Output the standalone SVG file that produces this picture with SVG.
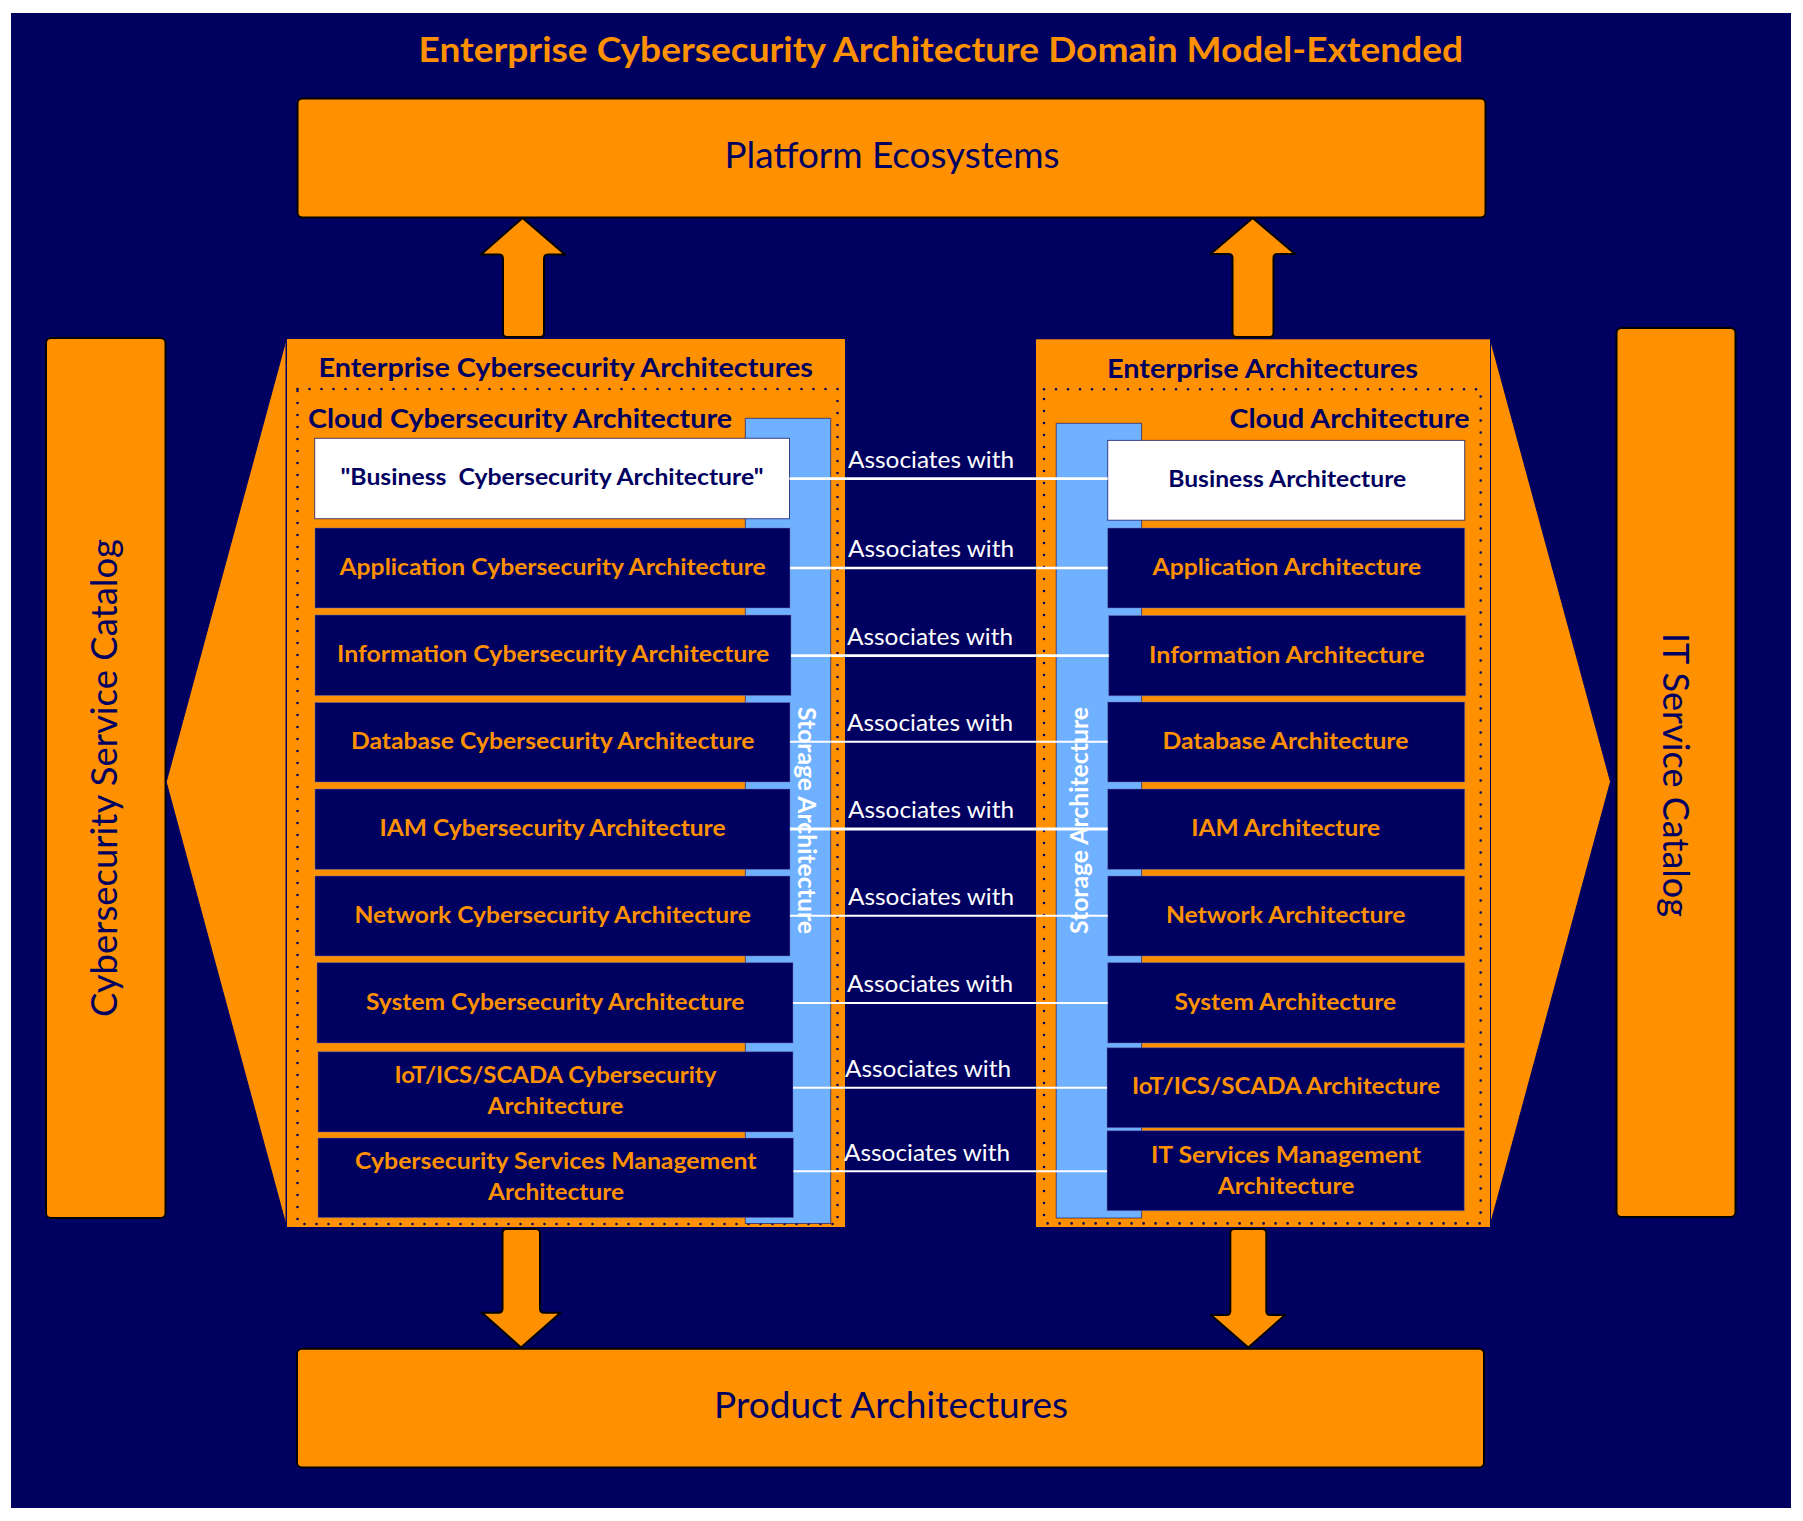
<svg xmlns="http://www.w3.org/2000/svg" width="1803" height="1521" viewBox="0 0 1803 1521">
<style>
text{font-family:"Lato","Liberation Sans",sans-serif;white-space:pre}
.o{fill:#ff9100}
.bar{fill:#ff9100;stroke:#000;stroke-width:2;stroke-linejoin:round}
.wedge{fill:#ff9100;stroke:#000060;stroke-width:1}
.dots{fill:none;stroke:#000060;stroke-width:2.6;stroke-linecap:round;stroke-dasharray:0 12}
.blue{fill:#6fb1ff;stroke:#000060;stroke-opacity:.6;stroke-width:1}
.box{fill:#000060;stroke:#6f6fb0;stroke-opacity:.5;stroke-width:1}
.wbox{fill:#fff;stroke:#000060;stroke-opacity:.7;stroke-width:1}
.bt{font-size:23px;font-weight:700;fill:#ff9100}
.nt{font-size:23px;font-weight:700;fill:#000060}
.h{font-size:26px;font-weight:700;fill:#000060}
.big{font-size:36px;fill:#000060}
.st{font-size:24px;font-weight:700;fill:#fff}
.lbl{font-size:24px;fill:#fff}
.conn{stroke:#fff;stroke-width:2.4;fill:none}
</style>
<rect width="1803" height="1521" fill="#fff"/>
<rect x="11" y="13" width="1780" height="1495" fill="#000060"/>
<g id="title"><text x="418.5" y="61.5" font-size="34" font-weight="700" fill="#ff9100" textLength="1044.5" lengthAdjust="spacingAndGlyphs">Enterprise Cybersecurity Architecture Domain Model-Extended</text></g>
<g id="platform-ecosystems"><rect class="bar" x="297.5" y="98.5" width="1188" height="119" rx="5"/><text class="big" x="724.5" y="168" textLength="335" lengthAdjust="spacingAndGlyphs">Platform Ecosystems</text></g>
<g id="product-architectures"><rect class="bar" x="297" y="1348.7" width="1187" height="118.8" rx="5"/><text class="big" x="714" y="1418" textLength="354" lengthAdjust="spacingAndGlyphs">Product Architectures</text></g>
<g id="cybersecurity-service-catalog"><rect class="bar" x="46" y="338" width="119.5" height="880" rx="5"/><text class="big" transform="translate(117 1017) rotate(-90)" textLength="478" lengthAdjust="spacingAndGlyphs">Cybersecurity Service Catalog</text></g>
<g id="it-service-catalog"><rect class="bar" x="1616.5" y="328" width="119" height="889" rx="5"/><text class="big" transform="translate(1663 633) rotate(90)" textLength="284" lengthAdjust="spacingAndGlyphs">IT Service Catalog</text></g>
<g id="enterprise-cybersecurity-architectures">
<polygon class="wedge" points="286,340 166.2,782 286,1225"/>
<rect class="o" x="287" y="339" width="558" height="888"/>
<rect class="dots" x="297.5" y="389" width="540" height="835"/>
<rect class="blue" x="745.3" y="418.3" width="85.4" height="805.2"/>
<text class="h" x="318.5" y="376.5" textLength="494.5" lengthAdjust="spacingAndGlyphs">Enterprise Cybersecurity Architectures</text>
<text class="h" x="308" y="427.5" textLength="424" lengthAdjust="spacingAndGlyphs">Cloud Cybersecurity Architecture</text>
<text class="st" transform="translate(798 707) rotate(90)" textLength="227" lengthAdjust="spacingAndGlyphs">Storage Architecture</text>
</g>
<g id="enterprise-architectures">
<polygon class="wedge" points="1490.5,340 1610.5,781.7 1490.5,1224"/>
<rect class="o" x="1036" y="339.3" width="454" height="887.7"/>
<rect class="dots" x="1044" y="389.2" width="436.7" height="834.2"/>
<rect class="blue" x="1056.2" y="423.3" width="85.4" height="794.7"/>
<text class="h" x="1107" y="378" textLength="311" lengthAdjust="spacingAndGlyphs">Enterprise Architectures</text>
<text class="h" x="1229.5" y="427.5" textLength="240" lengthAdjust="spacingAndGlyphs">Cloud Architecture</text>
<text class="st" transform="translate(1088 934) rotate(-90)" textLength="227" lengthAdjust="spacingAndGlyphs">Storage Architecture</text>
</g>
<g id="arrow-up-left"><path class="bar" d="M522.5 218L565 254.5H548Q544 254.5 544 258.5V333q0 4-4 4H507q-4 0-4-4V258.5Q503 254.5 499 254.5H481Z"/></g>
<g id="arrow-up-right"><path class="bar" d="M1252.7 218L1295 254H1277.5Q1273.5 254 1273.5 258V333q0 4-4 4H1236.5q-4 0-4-4V258Q1232.5 254 1228.5 254H1210.5Z"/></g>
<g id="arrow-down-left"><path class="bar" d="M502.5 1233q0-4 4-4H536q4 0 4 4V1308.7Q540 1312.7 544 1312.7H560.5L521 1347.5L482 1312.7H498.5Q502.5 1312.7 502.5 1308.7Z"/></g>
<g id="arrow-down-right"><path class="bar" d="M1230.3 1233q0-4 4-4H1262.3q4 0 4 4V1311Q1266.3 1315 1270.3 1315H1285L1248.3 1347.5L1211 1315H1226.3Q1230.3 1315 1230.3 1311Z"/></g>
<g id="business-cybersecurity"><rect class="wbox" x="314.7" y="438.3" width="474.8" height="80.4"/><text class="nt" x="340.5" y="485" textLength="423" lengthAdjust="spacingAndGlyphs">"Business  Cybersecurity Architecture"</text></g>
<g id="application-cybersecurity"><rect class="box" x="315" y="528" width="475" height="80"/><text class="bt" x="339.5" y="575.2" textLength="426.3" lengthAdjust="spacingAndGlyphs">Application Cybersecurity Architecture</text></g>
<g id="information-cybersecurity"><rect class="box" x="315" y="615" width="476" height="80.5"/><text class="bt" x="337" y="661.5" textLength="432.3" lengthAdjust="spacingAndGlyphs">Information Cybersecurity Architecture</text></g>
<g id="database-cybersecurity"><rect class="box" x="315" y="702.5" width="475" height="79.5"/><text class="bt" x="351" y="748.6" textLength="403.4" lengthAdjust="spacingAndGlyphs">Database Cybersecurity Architecture</text></g>
<g id="iam-cybersecurity"><rect class="box" x="315" y="789" width="475" height="80.4"/><text class="bt" x="379.5" y="835.8" textLength="346" lengthAdjust="spacingAndGlyphs">IAM Cybersecurity Architecture</text></g>
<g id="network-cybersecurity"><rect class="box" x="315" y="876" width="475" height="80"/><text class="bt" x="354.5" y="923" textLength="396.5" lengthAdjust="spacingAndGlyphs">Network Cybersecurity Architecture</text></g>
<g id="system-cybersecurity"><rect class="box" x="317" y="962.6" width="476" height="80.4"/><text class="bt" x="366" y="1009.5" textLength="378.5" lengthAdjust="spacingAndGlyphs">System Cybersecurity Architecture</text></g>
<g id="iot-cybersecurity"><rect class="box" x="318" y="1051.7" width="475" height="80.3"/><text class="bt" x="394.5" y="1082.6" textLength="321.9" lengthAdjust="spacingAndGlyphs">IoT/ICS/SCADA Cybersecurity</text><text class="bt" x="487.5" y="1113.9" textLength="135.9" lengthAdjust="spacingAndGlyphs">Architecture</text></g>
<g id="services-cybersecurity"><rect class="box" x="318" y="1138" width="475.5" height="79.6"/><text class="bt" x="355" y="1168.5" textLength="401.6" lengthAdjust="spacingAndGlyphs">Cybersecurity Services Management</text><text class="bt" x="488" y="1199.8" textLength="136" lengthAdjust="spacingAndGlyphs">Architecture</text></g>
<g id="business"><rect class="wbox" x="1107.7" y="440.4" width="357" height="79.8"/><text class="nt" x="1168.2" y="487" textLength="238" lengthAdjust="spacingAndGlyphs">Business Architecture</text></g>
<g id="application"><rect class="box" x="1107.7" y="528" width="357" height="80"/><text class="bt" x="1152.6" y="574.8" textLength="268.5" lengthAdjust="spacingAndGlyphs">Application Architecture</text></g>
<g id="information"><rect class="box" x="1108.7" y="615.5" width="357" height="80.3"/><text class="bt" x="1149.1" y="662.5" textLength="275.4" lengthAdjust="spacingAndGlyphs">Information Architecture</text></g>
<g id="database"><rect class="box" x="1107.7" y="702" width="357" height="80"/><text class="bt" x="1162.4" y="748.8" textLength="246" lengthAdjust="spacingAndGlyphs">Database Architecture</text></g>
<g id="iam"><rect class="box" x="1107.7" y="789" width="357" height="80.4"/><text class="bt" x="1191.2" y="835.8" textLength="189" lengthAdjust="spacingAndGlyphs">IAM Architecture</text></g>
<g id="network"><rect class="box" x="1107.7" y="876" width="357" height="80"/><text class="bt" x="1165.9" y="923" textLength="239.6" lengthAdjust="spacingAndGlyphs">Network Architecture</text></g>
<g id="system"><rect class="box" x="1107.7" y="962.6" width="357" height="80.4"/><text class="bt" x="1174.5" y="1009.5" textLength="221.8" lengthAdjust="spacingAndGlyphs">System Architecture</text></g>
<g id="iot"><rect class="box" x="1107" y="1047.7" width="357.3" height="80"/><text class="bt" x="1131.9" y="1094" textLength="308.2" lengthAdjust="spacingAndGlyphs">IoT/ICS/SCADA Architecture</text></g>
<g id="it-services"><rect class="box" x="1107" y="1130.7" width="357.3" height="80"/><text class="bt" x="1150.9" y="1162.6" textLength="270.2" lengthAdjust="spacingAndGlyphs">IT Services Management</text><text class="bt" x="1217.7" y="1194" textLength="136.6" lengthAdjust="spacingAndGlyphs">Architecture</text></g>
<g id="connectors">
<line class="conn" x1="789.5" y1="478.7" x2="1107.7" y2="478.7" style="stroke-width:2.8"/>
<line class="conn" x1="790" y1="568" x2="1107.7" y2="568"/>
<line class="conn" x1="791" y1="655.7" x2="1108.7" y2="655.7" style="stroke-width:2.8"/>
<line class="conn" x1="790" y1="741.7" x2="1107.7" y2="741.7" style="stroke-width:2"/>
<line class="conn" x1="790" y1="829" x2="1107.7" y2="829" style="stroke-width:2.8"/>
<line class="conn" x1="790" y1="915.7" x2="1107.7" y2="915.7" style="stroke-width:2"/>
<line class="conn" x1="793" y1="1003" x2="1107.7" y2="1003" style="stroke-width:2"/>
<line class="conn" x1="793" y1="1087.7" x2="1107" y2="1087.7" style="stroke-width:2"/>
<line class="conn" x1="793.5" y1="1171.3" x2="1107" y2="1171.3" style="stroke-width:2"/>
<text class="lbl" x="848" y="468" textLength="166" lengthAdjust="spacingAndGlyphs">Associates with</text>
<text class="lbl" x="848" y="557" textLength="166" lengthAdjust="spacingAndGlyphs">Associates with</text>
<text class="lbl" x="847" y="644.7" textLength="166" lengthAdjust="spacingAndGlyphs">Associates with</text>
<text class="lbl" x="847" y="730.8" textLength="166" lengthAdjust="spacingAndGlyphs">Associates with</text>
<text class="lbl" x="848" y="818" textLength="166" lengthAdjust="spacingAndGlyphs">Associates with</text>
<text class="lbl" x="848" y="905" textLength="166" lengthAdjust="spacingAndGlyphs">Associates with</text>
<text class="lbl" x="847" y="991.5" textLength="166" lengthAdjust="spacingAndGlyphs">Associates with</text>
<text class="lbl" x="845" y="1076.7" textLength="166" lengthAdjust="spacingAndGlyphs">Associates with</text>
<text class="lbl" x="844" y="1160.7" textLength="166" lengthAdjust="spacingAndGlyphs">Associates with</text>
</g>
</svg>
